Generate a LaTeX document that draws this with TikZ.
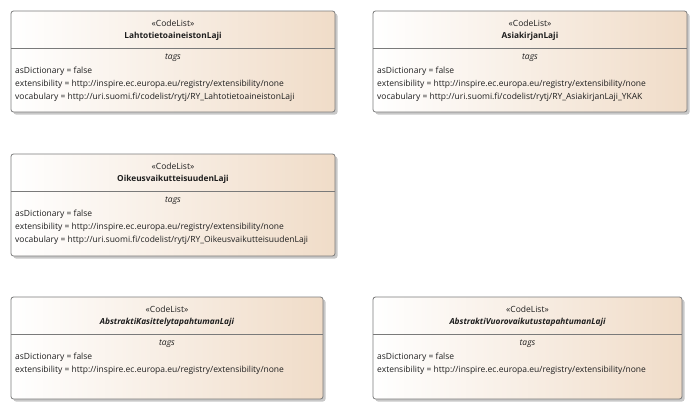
\documentclass[tikz,border=0pt]{standalone}
\usepackage{fontspec}
\setmainfont{Open Sans}
\definecolor{boxtan}{HTML}{F0DCC8}
\definecolor{boxline}{HTML}{7A7A7A}
\definecolor{shadowc}{HTML}{C8C8C8}
\definecolor{txt}{HTML}{1E1E1E}
\tikzset{
  x=1pt,y=-1pt,
  boxframe/.style={draw=boxline,line width=0.8pt,rounded corners=2.5pt,left color=white,right color=boxtan,shading angle=90},
  boxshadow/.style={fill=shadowc,rounded corners=2.5pt},
  sepline/.style={draw=boxline,line width=0.6pt},
  stereo/.style={anchor=center,inner sep=0pt,font=\fontsize{8.5}{10}\selectfont,text=txt},
  title/.style={anchor=center,inner sep=0pt,font=\fontsize{8.3}{10}\selectfont\bfseries,text=txt},
  tagshead/.style={anchor=center,inner sep=0pt,font=\fontsize{8.5}{10}\selectfont\itshape,text=txt},
  tagline/.style={anchor=west,inner sep=0pt,font=\fontsize{8.5}{10}\selectfont,text=txt},
}
% #1 name, #2 x1, #3 y1, #4 x2, #5 y2, #6 title text (formatted)
\newcommand{\clbox}[6]{%
  \fill[boxshadow] (#2+2.5,#3+2.5) rectangle (#4+2.5,#5+2.5);
  \path[boxframe] (#2,#3) rectangle (#4,#5);
  \draw[sepline] (#2,#3+37) -- (#4,#3+37);
  \node[stereo] (#1-st) at ({(#2+#4)/2},#3+12) {«CodeList»};
  \node[title] (#1-name) at ({(#2+#4)/2},#3+25) {#6};
  \node[tagshead] (#1-tags) at ({(#2+#4)/2},#3+47) {tags};
  \node[tagline] (#1-t1) at (#2+4,#3+60) {asDictionary = false};
  \node[tagline] (#1-t2) at (#2+4,#3+73) {extensibility = http://inspire.ec.europa.eu/registry/extensibility/none};
}
\begin{document}
\begin{tikzpicture}
\useasboundingbox (0,0) rectangle (698,410);
\clbox{a}{11}{11}{335}{112}{LahtotietoaineistonLaji}
\node[tagline] (a-t3) at (15,97) {vocabulary = http://uri.suomi.fi/codelist/rytj/RY\_LahtotietoaineistonLaji};
\clbox{b}{373}{11}{687}{112}{AsiakirjanLaji}
\node[tagline] (b-t3) at (377,97) {vocabulary = http://uri.suomi.fi/codelist/rytj/RY\_AsiakirjanLaji\_YKAK};
\clbox{c}{11}{154}{335}{256}{OikeusvaikutteisuudenLaji}
\node[tagline] (c-t3) at (15,240) {vocabulary = http://uri.suomi.fi/codelist/rytj/RY\_OikeusvaikutteisuudenLaji};
\clbox{d}{11}{297}{323}{399}{\itshape AbstraktiKasittelytapahtumanLaji}
\clbox{e}{373}{297}{682}{399}{\itshape AbstraktiVuorovaikutustapahtumanLaji}
\end{tikzpicture}
\end{document}
